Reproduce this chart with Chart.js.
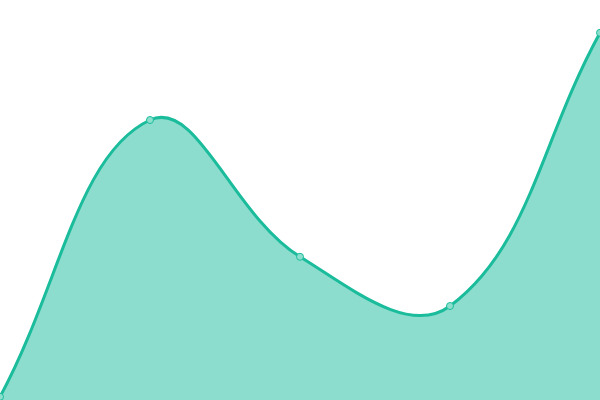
<!DOCTYPE html>
<html>
<head>
<meta charset="utf-8">
<script src="https://cdn.jsdelivr.net/npm/chart.js@4"></script>
<style>
  html, body { margin: 0; padding: 0; background: #fff; }
  #wrap { width: 600px; height: 400px; }
</style>
</head>
<body>
<div id="wrap"><canvas id="chart"></canvas></div>
<script>
// Data
const labels = ['A', 'B', 'C', 'D', 'E'];
const values = [0.8, 70, 35.8, 23.5, 91.8];
const yMin = 0;
const yMax = 100;

const ctx = document.getElementById('chart').getContext('2d');
new Chart(ctx, {
    type: 'line',
    data: {
        labels: labels,
        datasets: [{
            data: values,
            borderColor: '#1abc9c',
            borderWidth: 3,
            backgroundColor: 'rgba(26, 188, 156, 0.5)',
            fill: true,
            tension: 0.4,
            pointRadius: 3.5,
            pointBackgroundColor: '#8ddfcd',
            pointBorderColor: '#1abc9c',
            pointBorderWidth: 1
        }]
    },
    options: {
        responsive: true,
        maintainAspectRatio: false,
        animation: false,
        layout: { padding: 0, autoPadding: false },
        plugins: { legend: { display: false }, tooltip: { enabled: false } },
        scales: {
            x: { display: false, offset: false },
            y: { display: false, min: yMin, max: yMax }
        }
    }
});
</script>
</body>
</html>
